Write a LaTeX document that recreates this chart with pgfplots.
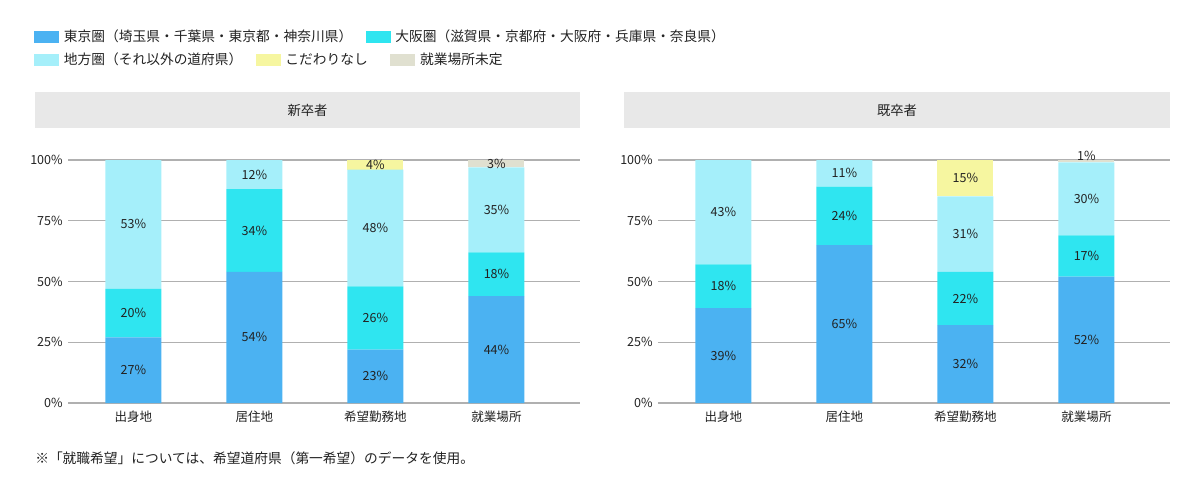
\documentclass[border=0pt]{standalone}
\usepackage{pgfplots}
\pgfplotsset{compat=1.18}
\usepackage{fontspec}
\setmainfont{Noto Sans CJK JP}
\definecolor{cTokyo}{RGB}{75,178,242}
\definecolor{cOsaka}{RGB}{47,229,240}
\definecolor{cChiho}{RGB}{165,239,250}
\definecolor{cNone}{RGB}{246,246,160}
\definecolor{cUndec}{RGB}{224,224,208}
\definecolor{cBox}{RGB}{232,232,232}
\definecolor{cGrid}{RGB}{176,176,176}
\definecolor{cText}{RGB}{34,34,34}
\newcommand{\px}[1]{#1*0.75pt}
\pgfplotsset{
  panel/.style={
    scale only axis, width=384pt, height=182.25pt,
    anchor=south west,
    xmin=-0.54, xmax=3.69, ymin=0, ymax=100,
    axis lines*=left, axis line style={draw=none},
    major tick length=0pt,
  },
  barpanel/.style={
    panel,
    ybar stacked, bar width=42pt,
    xtick={0,1,2,3},
    xticklabels={出身地,居住地,希望勤務地,就業場所},
    ytick={0,25,50,75,100},
    /pgf/number format/assume math mode=true,
    yticklabel={\pgfmathprintnumber{\tick}\%},
    ymajorgrids, grid style={cGrid, line width=0.9pt},
    tick label style={font=\fontsize{9.4}{10}\selectfont, text=cText},
    yticklabel style={inner sep=0pt, xshift=-3.8pt},
    xticklabel style={inner sep=0pt, yshift=-6pt},
    legend image code/.code={\fill[##1] (0pt,-4.5pt) rectangle (18.75pt,4.5pt);},
    legend style={draw=none, fill=none, inner sep=0pt, anchor=west,
      font=\fontsize{10.3}{12}\selectfont, text=cText,
      /tikz/every odd column/.append style={column sep=1.5pt},
      /tikz/every even column/.append style={column sep=8pt}},
  },
  labelpanel/.style={
    panel, hide axis, clip=false,
  },
  barlabel/.style={only marks, mark=none, point meta=explicit symbolic,
    nodes near coords={\pgfplotspointmeta\%}, nodes near coords align=center,
    every node near coord/.append style={font=\fontsize{9.4}{10}\selectfont, text=cText, inner sep=0pt}},
}
\begin{document}
\begin{tikzpicture}
\useasboundingbox (0,0) rectangle (900pt,-374.25pt);
% panel titles
\fill[cBox] (\px{35},-\px{92}) rectangle (\px{580},-\px{128});
\node[text=cText, font=\fontsize{10}{11}\selectfont] at (\px{307.5},-\px{110}) {新卒者};
\fill[cBox] (\px{624},-\px{92}) rectangle (\px{1170},-\px{128});
\node[text=cText, font=\fontsize{10}{11}\selectfont] at (\px{897},-\px{110}) {既卒者};
% left panel
\begin{axis}[barpanel, at={(\px{68},-\px{403})},
  legend columns=-1,
  legend style={at={(axis description cs:-0.0664,1.506)}}]
\addplot[fill=cTokyo, draw=none] coordinates {(0,27) (1,54) (2,22) (3,44)};
\addplot[fill=cOsaka, draw=none] coordinates {(0,20) (1,34) (2,26) (3,18)};
\addplot[fill=cChiho, draw=none, forget plot] coordinates {(0,53) (1,12) (2,48) (3,35)};
\addplot[fill=cNone, draw=none, forget plot] coordinates {(0,0) (1,0) (2,4) (3,0)};
\addplot[fill=cUndec, draw=none, forget plot] coordinates {(0,0) (1,0) (2,0) (3,3)};
\legend{東京圏（埼玉県・千葉県・東京都・神奈川県）,大阪圏（滋賀県・京都府・大阪府・兵庫県・奈良県）}
\end{axis}
\begin{axis}[labelpanel, at={(\px{68},-\px{403})}]
\addplot[barlabel] table[meta=lab] {
x y lab
0 13.5 27
0 37 20
0 73.5 53
1 27 54
1 71 34
1 94 12
2 11 23
2 35 26
2 72 48
2 98 4
3 22 44
3 53 18
3 79.5 35
3 98.5 3
};
\end{axis}
% right panel
\begin{axis}[barpanel, at={(\px{658},-\px{403})},
  legend columns=-1,
  legend style={at={(axis description cs:-1.2188,1.4115)}}]
\addplot[fill=cTokyo, draw=none, forget plot] coordinates {(0,39) (1,65) (2,32) (3,52)};
\addplot[fill=cOsaka, draw=none, forget plot] coordinates {(0,18) (1,24) (2,22) (3,17)};
\addplot[fill=cChiho, draw=none] coordinates {(0,43) (1,11) (2,31) (3,30)};
\addplot[fill=cNone, draw=none] coordinates {(0,0) (1,0) (2,15) (3,0)};
\addplot[fill=cUndec, draw=none] coordinates {(0,0) (1,0) (2,0) (3,1)};
\legend{地方圏（それ以外の道府県）,こだわりなし\rule{7pt}{0pt},就業場所未定}
\end{axis}
\begin{axis}[labelpanel, at={(\px{658},-\px{403})}]
\addplot[barlabel] table[meta=lab] {
x y lab
0 19.5 39
0 48 18
0 78.5 43
1 32.5 65
1 77 24
1 94.5 11
2 16 32
2 43 22
2 69.5 31
2 92.5 15
3 26 52
3 60.5 17
3 84 30
3 101.5 1
};
\end{axis}
% footnote
\node[anchor=west, inner sep=0pt, text=cText, font=\fontsize{10.3}{12}\selectfont] at (\px{35},-\px{458}) {※「就職希望」については、希望道府県（第一希望）のデータを使用。};
\end{tikzpicture}
\end{document}
